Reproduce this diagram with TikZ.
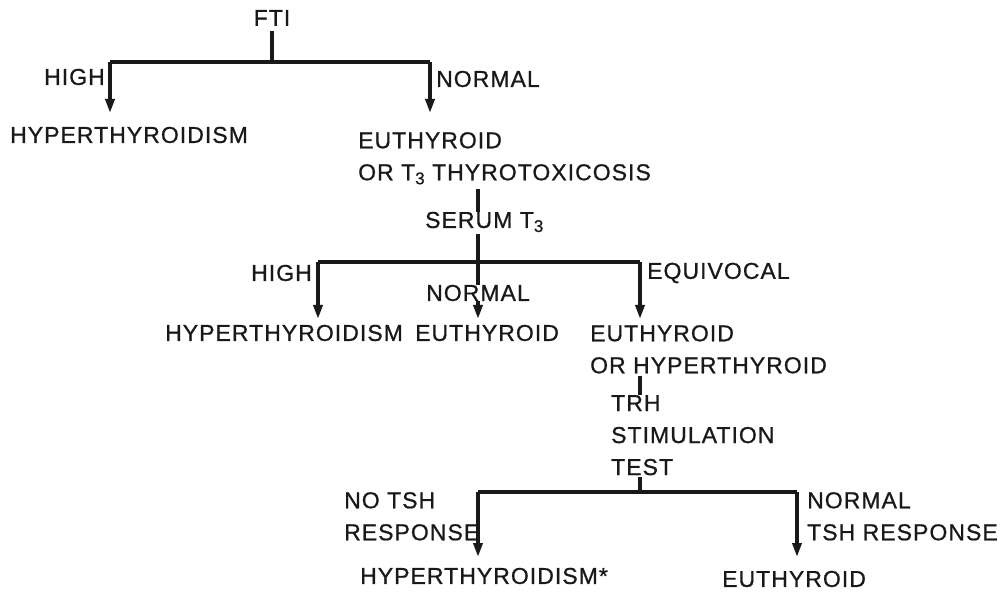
\documentclass[tikz,border=0pt]{standalone}
\usepackage{fontspec}
\setmainfont{Liberation Sans}[LetterSpace=4.5, FakeBold=0.8]
\usetikzlibrary{arrows.meta}

\newcommand{\tsub}{T\raisebox{-4pt}{\fontsize{17}{17}\selectfont 3}}

\begin{document}
\begin{tikzpicture}[x=1pt, y=-1pt, >={Triangle[length=14pt,width=9pt]},
    every node/.style={inner sep=0pt, font=\fontsize{23}{32}\selectfont},
    branch/.style={line width=3.4pt, black!90},
    lbl/.style={text=black!90}]
    \useasboundingbox (0,0) rectangle (1006,593);

    % First test: FTI
    \node[lbl] (fti) at (272,18) {FTI};
    \coordinate (j1) at (272,62);
    \draw[branch] (fti.south) ++(0,5) -- (j1);
    \draw[branch] (110,62) -- (430,62);
    \draw[branch, ->] (110,62) -- (110,113);
    \draw[branch, ->] (430,62) -- (430,113);
    \node[lbl, anchor=east] (high1) at (105,77) {HIGH};
    \node[lbl, anchor=west] (norm1) at (436,79) {NORMAL};
    \node[lbl, anchor=west] (hyp1) at (10,135) {HYPERTHYROIDISM};
    \node[lbl, anchor=north west, align=left] (euth1) at (358,132)
        {EUTHYROID\\OR \tsub\ THYROTOXICOSIS};

    % Second test: serum T3
    \coordinate (j2) at (478,262);
    \node[lbl, anchor=west] (serum) at (425,222) {SERUM \tsub};
    \draw[branch] (euth1.south -| j2) ++(0,4) -- (serum.north -| j2);
    \draw[branch] (serum.south -| j2) ++(0,2) -- (j2);
    \draw[branch] (318,262) -- (640,262);
    \draw[branch, ->] (318,262) -- (318,319);
    \draw[branch, ->] (640,262) -- (640,319);
    \node[lbl, anchor=east] (high2) at (312,273) {HIGH};
    \node[lbl, anchor=west] (equiv) at (647,273) {EQUIVOCAL};
    \node[lbl] (norm2) at (478,293) {NORMAL};
    \draw[branch] (j2) -- (norm2.north);
    \draw[branch, ->] (norm2.south) -- (478,319);
    \node[lbl, anchor=west] (hyp2) at (165,333) {HYPERTHYROIDISM};
    \node[lbl, anchor=west] (euth2) at (415,333) {EUTHYROID};
    \node[lbl, anchor=north west, align=left] (euhy) at (590,325)
        {EUTHYROID\\OR HYPERTHYROID};

    % Third test: TRH stimulation
    \coordinate (j3) at (640,492);
    \node[lbl, anchor=north west, align=left] (trh) at (611,395)
        {TRH\\STIMULATION\\TEST};
    \draw[branch] (euhy.south -| j3) ++(0,2) -- (trh.north -| j3);
    \draw[branch] (trh.south -| j3) ++(0,2) -- (j3);
    \draw[branch] (478,492) -- (797,492);
    \draw[branch, ->] (478,492) -- (478,557);
    \draw[branch, ->] (797,492) -- (797,557);
    \node[lbl, anchor=north west, align=left] (notsh) at (344,492)
        {NO TSH\\RESPONSE};
    \node[lbl, anchor=north west, align=left] (normtsh) at (807,492)
        {NORMAL\\TSH RESPONSE};
    \node[lbl, anchor=west] (hyp3) at (360,576) {HYPERTHYROIDISM*};
    \node[lbl, anchor=west] (euth3) at (722,579) {EUTHYROID};
\end{tikzpicture}
\end{document}
